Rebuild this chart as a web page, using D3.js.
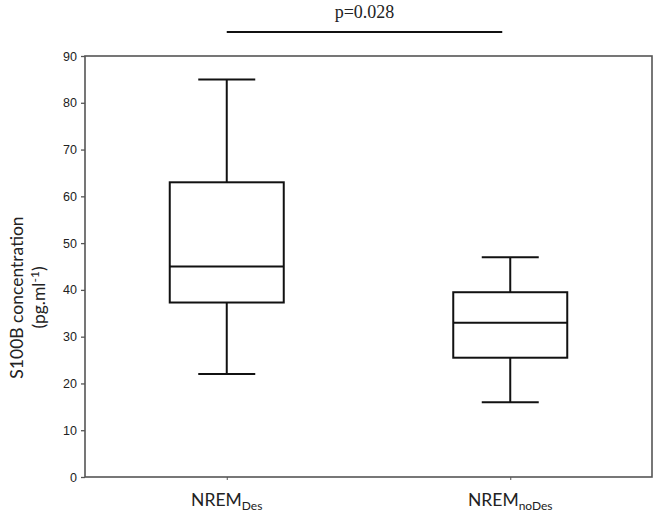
<!DOCTYPE html>
<html>
<head>
<meta charset="utf-8">
<script src="https://cdn.jsdelivr.net/npm/d3@7"></script>
<style>
  body { margin: 0; background: #fff; }
  svg { display: block; }
</style>
</head>
<body>
<div class="chart"></div>
<script>
// box plot data
const groups = ["NREM_Des", "NREM_noDes"];
const groupMain = ["NREM", "NREM"];
const groupSub = ["Des", "noDes"];
const whiskerLow = [22, 16];
const q1 = [37.3, 25.5];
const median = [45, 33];
const q3 = [63, 39.5];
const whiskerHigh = [85, 47];
const yTicks = [0, 10, 20, 30, 40, 50, 60, 70, 80, 90];
const pLabel = "p=0.028";

const boxes = groups.map((g, i) => ({
    group: g, lo: whiskerLow[i], q1: q1[i], med: median[i], q3: q3[i], hi: whiskerHigh[i],
    main: groupMain[i], sub: groupSub[i]
}));

// size of the chart
const W = 654, H = 519;
const margin = { top: 56, right: 2, bottom: 42, left: 85 };
const w = W - margin.left - margin.right,
    h = H - margin.top - margin.bottom;

const svg = d3.select("div.chart")
    .append("svg")
    .attr("width", W)
    .attr("height", H);

const g = svg.append("g")
    .attr("transform", "translate(" + margin.left + "," + margin.top + ")");

// scales
const xScale = d3.scalePoint()
    .domain(groups)
    .range([0, w])
    .padding(0.5);

const yScale = d3.scaleLinear()
    .domain([0, 90])
    .range([h, 0]);

const boxW = 114, capW = 57;

// frame
g.append("rect")
    .attr("x", 0).attr("y", 0)
    .attr("width", w).attr("height", h)
    .attr("fill", "none")
    .attr("stroke", "#555")
    .attr("stroke-width", 1.6);

// y axis
const yAxis = d3.axisLeft(yScale).tickValues(yTicks).tickSize(4).tickPadding(4);
const ya = g.append("g").call(yAxis);
ya.select(".domain").remove();
ya.selectAll("line").attr("stroke", "#555").attr("stroke-width", 1.3);
ya.selectAll("text")
    .attr("font-family", "Liberation Sans, Arial, sans-serif")
    .attr("font-size", 12.5)
    .attr("fill", "#222");

// x axis
const xAxis = d3.axisBottom(xScale).tickSize(3).tickFormat("");
const xa = g.append("g").attr("transform", "translate(0," + h + ")").call(xAxis);
xa.select(".domain").remove();
xa.selectAll("line").attr("stroke", "#555");

// category labels with subscripts
const lab = g.selectAll(".cat")
    .data(boxes)
    .enter()
    .append("text")
    .attr("class", "cat")
    .attr("x", d => xScale(d.group))
    .attr("y", h + 29)
    .attr("text-anchor", "middle")
    .attr("font-family", "Lato, 'Noto Sans', sans-serif")
    .attr("font-size", 17.5)
    .attr("fill", "#222");
lab.append("tspan").text(d => d.main);
lab.append("tspan")
    .attr("font-size", 12)
    .attr("dy", 4)
    .text(d => d.sub);

// boxes
const bx = g.selectAll(".box")
    .data(boxes)
    .enter()
    .append("g")
    .attr("class", "box")
    .attr("stroke", "#111")
    .attr("stroke-width", 2)
    .attr("fill", "none");

bx.append("line")
    .attr("x1", d => xScale(d.group)).attr("x2", d => xScale(d.group))
    .attr("y1", d => yScale(d.hi)).attr("y2", d => yScale(d.q3));
bx.append("line")
    .attr("x1", d => xScale(d.group)).attr("x2", d => xScale(d.group))
    .attr("y1", d => yScale(d.q1)).attr("y2", d => yScale(d.lo));
bx.append("line")
    .attr("x1", d => xScale(d.group) - capW / 2).attr("x2", d => xScale(d.group) + capW / 2)
    .attr("y1", d => yScale(d.hi)).attr("y2", d => yScale(d.hi));
bx.append("line")
    .attr("x1", d => xScale(d.group) - capW / 2).attr("x2", d => xScale(d.group) + capW / 2)
    .attr("y1", d => yScale(d.lo)).attr("y2", d => yScale(d.lo));
bx.append("rect")
    .attr("x", d => xScale(d.group) - boxW / 2)
    .attr("y", d => yScale(d.q3))
    .attr("width", boxW)
    .attr("height", d => yScale(d.q1) - yScale(d.q3));
bx.append("line")
    .attr("x1", d => xScale(d.group) - boxW / 2).attr("x2", d => xScale(d.group) + boxW / 2)
    .attr("y1", d => yScale(d.med)).attr("y2", d => yScale(d.med));

// significance bar
svg.append("line")
    .attr("x1", margin.left + xScale(groups[0]))
    .attr("x2", margin.left + xScale(groups[1]) - 8)
    .attr("y1", 32).attr("y2", 32)
    .attr("stroke", "#111")
    .attr("stroke-width", 2);
svg.append("text")
    .attr("x", margin.left + (xScale(groups[0]) + xScale(groups[1]) - 8) / 2)
    .attr("y", 18)
    .attr("text-anchor", "middle")
    .attr("font-family", "Liberation Serif, 'Times New Roman', serif")
    .attr("font-size", 18)
    .attr("fill", "#222")
    .text(pLabel);

// y title
const yt = svg.append("text")
    .attr("transform", "translate(23," + (margin.top + h / 2 + 31) + ") rotate(-90)")
    .attr("text-anchor", "middle")
    .attr("font-family", "Lato, 'Noto Sans', sans-serif")
    .attr("font-size", 17.5)
    .attr("fill", "#222");
yt.append("tspan").attr("x", 0).attr("dy", 0).text("S100B concentration");
const yt2 = yt.append("tspan").attr("x", 0).attr("dy", 22);
yt2.append("tspan").text("(pg.ml");
yt2.append("tspan").attr("font-size", 12).attr("dy", -6).text("-1");
yt2.append("tspan").attr("dy", 6).text(")");
</script>
</body>
</html>
